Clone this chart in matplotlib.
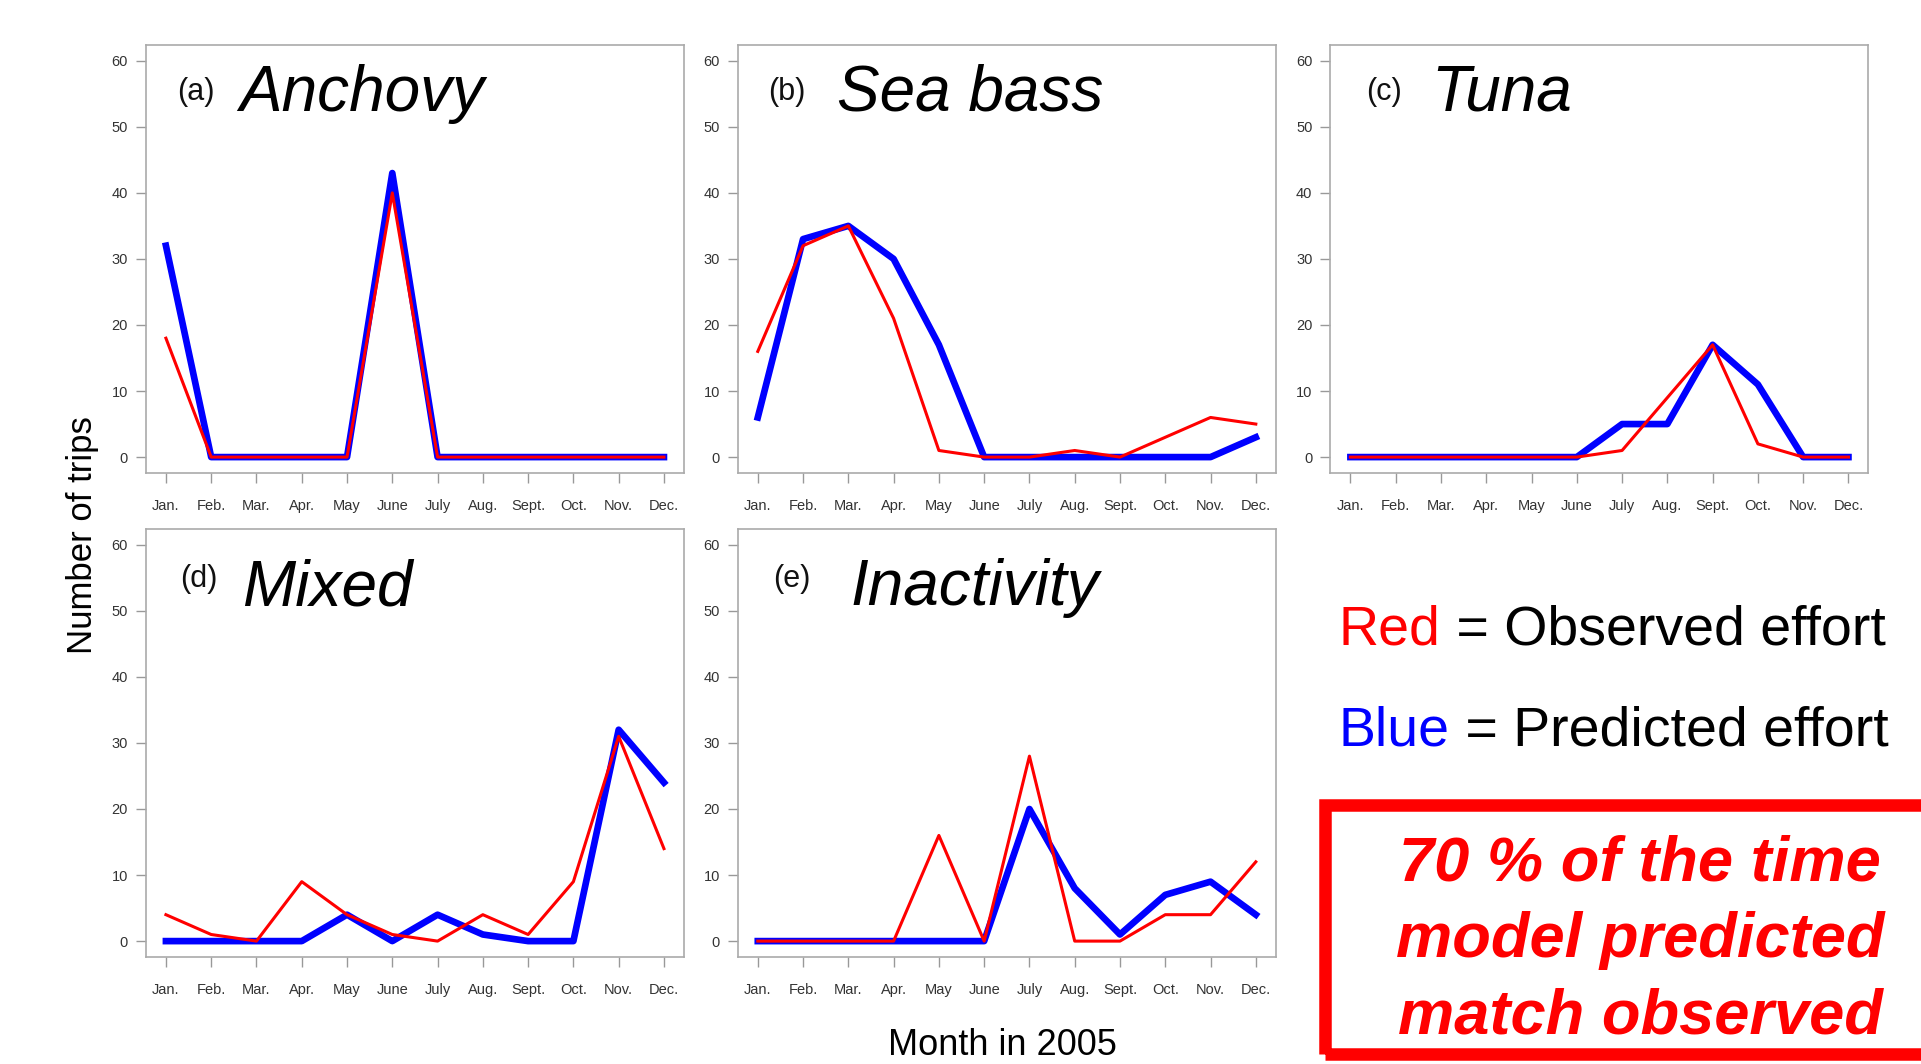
import matplotlib
matplotlib.use("Agg")
import matplotlib.pyplot as plt
from matplotlib.patches import Rectangle
from matplotlib.text import Annotation

plt.rcParams['font.family'] = ['Liberation Sans', 'DejaVu Sans']

months = ['Jan.', 'Feb.', 'Mar.', 'Apr.', 'May', 'June', 'July', 'Aug.', 'Sept.', 'Oct.', 'Nov.', 'Dec.']
panel_tags = ['(a)', '(b)', '(c)', '(d)', '(e)']
panel_names = ['Anchovy', 'Sea bass', 'Tuna', 'Mixed', 'Inactivity']

# observed effort (red)
obs_anchovy = [18, 0, 0, 0, 0, 40, 0, 0, 0, 0, 0, 0]
obs_seabass = [16, 32, 35, 21, 1, 0, 0, 1, 0, 3, 6, 5]
obs_tuna = [0, 0, 0, 0, 0, 0, 1, 9, 17, 2, 0, 0]
obs_mixed = [4, 1, 0, 9, 4, 1, 0, 4, 1, 9, 31, 14]
obs_inactivity = [0, 0, 0, 0, 16, 0, 28, 0, 0, 4, 4, 12]

# predicted effort (blue)
pred_anchovy = [32, 0, 0, 0, 0, 43, 0, 0, 0, 0, 0, 0]
pred_seabass = [6, 33, 35, 30, 17, 0, 0, 0, 0, 0, 0, 3]
pred_tuna = [0, 0, 0, 0, 0, 0, 5, 5, 17, 11, 0, 0]
pred_mixed = [0, 0, 0, 0, 4, 0, 4, 1, 0, 0, 32, 24]
pred_inactivity = [0, 0, 0, 0, 0, 0, 20, 8, 1, 7, 9, 4]

observed = [obs_anchovy, obs_seabass, obs_tuna, obs_mixed, obs_inactivity]
predicted = [pred_anchovy, pred_seabass, pred_tuna, pred_mixed, pred_inactivity]

box_lines = ['70 % of the time', 'model predicted', 'match observed']

fig = plt.figure(figsize=(19.21, 10.64), dpi=100)

lefts = [0.0760, 0.3841, 0.6926, 0.0760, 0.3841]
bottoms = [0.5555, 0.5555, 0.5555, 0.1006, 0.1006]
w, h = 0.2800, 0.4023
tag_x = [0.057, 0.056, 0.066, 0.064, 0.066]
name_x = [0.174, 0.184, 0.187, 0.178, 0.21]
tag_y = [0.890, 0.890, 0.890, 0.883, 0.883]
name_y = [0.846, 0.846, 0.846, 0.822, 0.822]

x = list(range(1, 13))
for i in range(5):
    ax = fig.add_axes([lefts[i], bottoms[i], w, h])
    ax.plot(x, predicted[i], color='#0000ff', lw=4.8, solid_joinstyle='round')
    ax.plot(x, observed[i], color='#ff0000', lw=2.2, solid_joinstyle='round')
    ax.set_xlim(0.56, 12.44)
    ax.set_ylim(-2.4, 62.4)
    ax.set_xticks(x)
    ax.set_xticklabels(months)
    ax.set_yticks([0, 10, 20, 30, 40, 50, 60])
    ax.tick_params(axis='both', direction='out', length=7, width=1, color='#999999',
                   labelcolor='#333333', labelsize=10.5)
    ax.tick_params(axis='x', pad=12)
    ax.tick_params(axis='y', pad=6)
    for sp in ax.spines.values():
        sp.set_color('#aaaaaa')
        sp.set_linewidth(1.2)
    ax.text(tag_x[i], tag_y[i], panel_tags[i], transform=ax.transAxes,
            fontsize=22, ha='left', va='center', color='#111111')
    ax.text(name_x[i], name_y[i], panel_names[i], transform=ax.transAxes,
            fontsize=46, style='italic', ha='left', va='baseline')

fig.text(0.0427, 0.497, 'Number of trips', rotation=90, ha='center', va='center', fontsize=25)
fig.text(0.5216, 0.001, 'Month in 2005', ha='center', va='bottom', fontsize=26)

# legend text
t1 = fig.text(0.697, 0.3938, 'Red', color='#ff0000', fontsize=40, va='baseline')
fig.add_artist(Annotation(' = Observed effort', xy=(1, 0), xycoords=t1, va='bottom',
                          ha='left', fontsize=40, color='black'))
t2 = fig.text(0.697, 0.2998, 'Blue', color='#0000ff', fontsize=40, va='baseline')
fig.add_artist(Annotation(' = Predicted effort', xy=(1, 0), xycoords=t2, va='bottom',
                          ha='left', fontsize=40, color='black'))

# red box
fig.add_artist(Rectangle((0.6897, 0.0094), 0.4, 0.234, transform=fig.transFigure,
                         fill=False, edgecolor='#ff0000', lw=9, clip_on=False))
for line, yb in zip(box_lines, [0.1729, 0.1006, 0.0291]):
    fig.text(0.8537, yb, line, color='#ff0000', fontsize=45.5, fontweight='bold',
             style='italic', ha='center', va='baseline')

fig.savefig('out.png', dpi=100)
